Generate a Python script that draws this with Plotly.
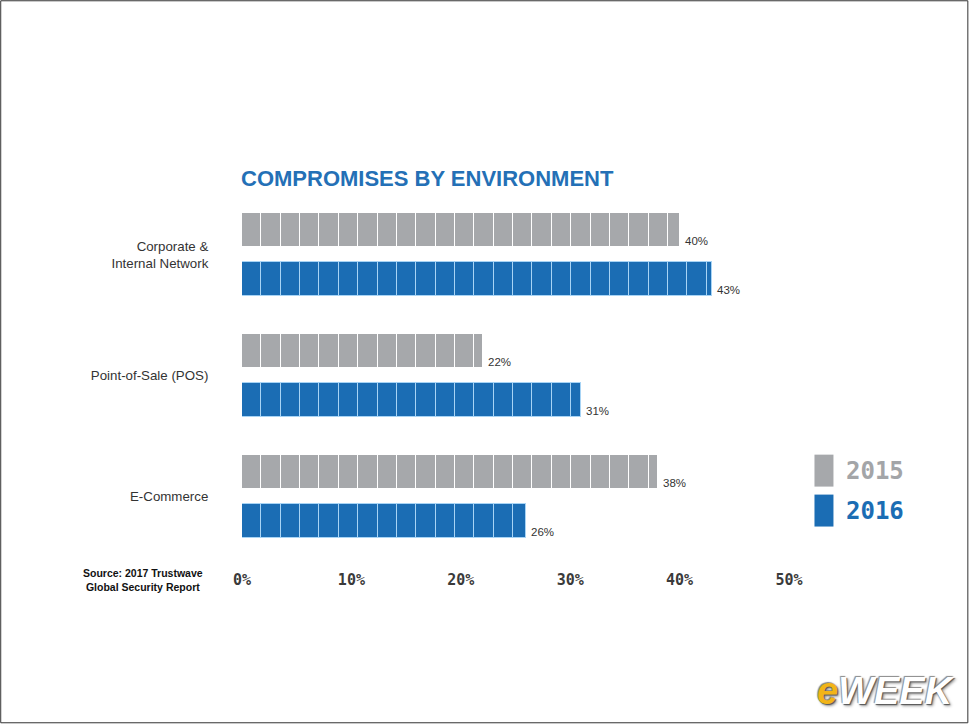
import math
import plotly.graph_objects as go

# ---------------- data ----------------
categories = ["Corporate &<br>Internal Network", "Point-of-Sale (POS)", "E-Commerce"]
series_names = ["2015", "2016"]
values_2015 = [40, 22, 38]
values_2016 = [43, 31, 26]
tick_values = [0, 10, 20, 30, 40, 50]
tick_labels = ["0%", "10%", "20%", "30%", "40%", "50%"]
title_text = "COMPROMISES BY ENVIRONMENT"
source_text = "Source: 2017 Trustwave<br>Global Security Report"

# ---------------- style ----------------
W_FIG, H_FIG = 970, 725
L, R, T, B = 242, 180.5, 194, 167.5
PW, PH = W_FIG - L - R, H_FIG - T - B
GRAY = "#a6a8ab"
BLUE = "#1b6db4"
GRAY_SEP = "#ffffff"
BLUE_SEP = "#a8d4f5"
SEG = 1.77          # width of one bar segment in %
OFF = 0.2025        # offset of each series from the category centre
BAR_W = 0.281


def px(x):
    return (x - L) / PW


def py(y):
    return 1 - (y - T) / PH


n = len(categories)
y_pos = [i - OFF for i in range(n)] + [i + OFF for i in range(n)]
vals = values_2015 + values_2016
colors = [GRAY] * n + [BLUE] * n
sep_colors = [GRAY_SEP] * n + [BLUE_SEP] * n

fig = go.Figure()
n_seg = math.ceil(max(vals) / SEG)
for k in range(n_seg):
    xs = []
    for v in vals:
        rem = v - k * SEG
        xs.append(min(SEG, rem) if rem > 1e-9 else None)
    fig.add_trace(go.Bar(
        x=xs, y=y_pos, orientation="h", width=BAR_W,
        marker=dict(color=colors, line=dict(color=sep_colors, width=1)),
        showlegend=False, hoverinfo="skip",
    ))

annotations = []
for v, y in zip(vals, y_pos):
    annotations.append(dict(
        x=v, y=y, xref="x", yref="y", text=f"{v}%", showarrow=False,
        xanchor="left", yanchor="middle", xshift=3, yshift=-11,
        font=dict(family="Liberation Sans, Arial", size=11.5, color="#333333"),
    ))

# title
annotations.append(dict(
    x=px(239), y=py(178), xref="paper", yref="paper", text=f"<b>{title_text}</b>",
    showarrow=False, xanchor="left", yanchor="middle",
    font=dict(family="Liberation Sans, Arial", size=22, color="#2470b6"),
))
# source
annotations.append(dict(
    x=px(143), y=py(581), xref="paper", yref="paper", text=f"<b>{source_text}</b>",
    showarrow=False, xanchor="center", yanchor="middle", align="center",
    font=dict(family="Liberation Sans, Arial", size=10.5, color="#111111"),
))

# legend (swatches + labels)
shapes = []
legend_colors = [GRAY, BLUE]
legend_text_colors = ["#a3a5a8", "#1b6db4"]
legend_y = [471, 511]
for name, c, tc, yc in zip(series_names, legend_colors, legend_text_colors, legend_y):
    shapes.append(dict(type="rect", xref="paper", yref="paper",
                       x0=px(815), x1=px(834), y0=py(yc - 16), y1=py(yc + 16),
                       fillcolor=c, line=dict(width=0)))
    annotations.append(dict(
        x=px(845), y=py(yc), xref="paper", yref="paper", text=f"<b>{name}</b>",
        showarrow=False, xanchor="left", yanchor="middle",
        font=dict(family="DejaVu Sans Mono, monospace", size=24, color=tc),
    ))

# eWEEK logo
annotations.append(dict(
    x=px(958), y=py(692), xref="paper", yref="paper",
    text="<b><i><span style='color:#f2b418'>e</span>WEEK</i></b>",
    showarrow=False, xanchor="right", yanchor="middle",
    font=dict(family="Liberation Sans, Arial", size=38, color="#ffffff",
              shadow="1px 1px 1px #555, -1px -1px 1px #888, 2px 2px 3px #999"),
))

# thin frame around the picture
shapes.append(dict(type="rect", xref="paper", yref="paper",
                   x0=px(0.5), x1=px(968.5), y0=py(0.5), y1=py(723.5),
                   line=dict(color="#333333", width=1), fillcolor="rgba(0,0,0,0)",
                   layer="above"))

fig.update_layout(
    width=W_FIG, height=H_FIG,
    margin=dict(l=L, r=R, t=T, b=B, pad=0),
    paper_bgcolor="white", plot_bgcolor="white",
    barmode="stack", bargap=0,
    annotations=annotations, shapes=shapes,
    xaxis=dict(range=[0, 50], tickvals=tick_values, ticktext=tick_labels,
               showgrid=False, zeroline=False, showline=False,
               ticks="outside", ticklen=9, tickcolor="rgba(0,0,0,0)",
               tickfont=dict(family="DejaVu Sans Mono, monospace", size=15,
                             color="#3a3a3a", weight="bold")),
    yaxis=dict(range=[2.5, -0.5], tickvals=list(range(n)), ticktext=categories,
               showgrid=False, zeroline=False, showline=False,
               ticks="outside", ticklen=30, tickcolor="rgba(0,0,0,0)",
               tickfont=dict(family="Liberation Sans, Arial", size=13.3, color="#333333")),
)

fig.write_html("out.html")
